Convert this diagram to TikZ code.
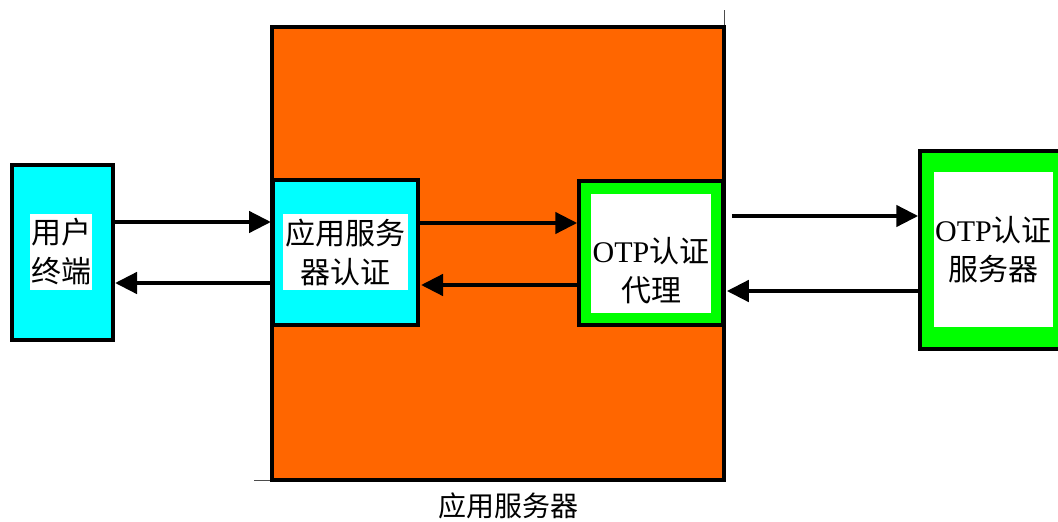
\documentclass[tikz,border=0pt]{standalone}
\usepackage{fontspec}
\setmainfont{Liberation Serif}
\newfontfamily\cjk{Noto Sans CJK SC}
\usetikzlibrary{arrows.meta}
\definecolor{orangefill}{HTML}{FF6600}
\definecolor{cyanfill}{HTML}{00FFFF}
\definecolor{greenfill}{HTML}{00FF00}
\begin{document}
\begin{tikzpicture}[x=1pt,y=-1pt,
  box/.style={draw=black, line width=4pt, rectangle, inner sep=0pt},
  whitebox/.style={fill=white, rectangle, inner sep=0pt, align=center,
    font=\fontsize{30}{39}\selectfont\cjk},
  txt/.style={inner sep=0pt, align=center, font=\fontsize{30}{39}\selectfont\cjk},
  arr/.style={line width=4.5pt, -{Triangle[length=22pt,width=21pt]}},
  thinline/.style={draw=black!70, line width=1pt}]
\useasboundingbox (0,0) rectangle (1058,522);
% application server
\node[box, fill=orangefill, minimum width=452pt, minimum height=453pt] (srv) at (498,253.5) {};
\coordinate (srvtop) at (724,10);
\coordinate (srvleft) at (254,480);
\draw[thinline] (srvtop) -- (srvtop |- srv.north);
\draw[thinline] (srvleft) -- (srv.west |- srvleft);
\node[font=\fontsize{28}{30}\selectfont\cjk] (srvlbl) at (508,506) {应用服务器};
% user terminal
\node[box, fill=cyanfill, minimum width=101pt, minimum height=175pt] (user) at (62.5,252.5) {};
\node[whitebox, minimum width=62pt, minimum height=76pt] (usert) at (61,252) {用户\\终端};
% app server auth
\node[box, fill=cyanfill, minimum width=145pt, minimum height=145pt] (auth) at (345.5,252.5) {};
\node[whitebox, minimum width=125pt, minimum height=76pt] (autht) at (345.5,252) {应用服务\\器认证};
% OTP proxy
\node[box, line width=3.5pt, fill=greenfill, minimum width=144pt, minimum height=144pt] (proxy) at (651,253) {};
\node[whitebox, minimum width=120pt, minimum height=119pt] (proxyw) at (651,253.5) {};
\node[txt] (proxyt) at (651,271) {{\rmfamily OTP}认证\\代理};
% OTP server
\node[box, line width=3.5pt, fill=greenfill, minimum width=144pt, minimum height=198pt] (otps) at (992,250) {};
\node[whitebox, minimum width=119pt, minimum height=155pt] (otpst) at (993.5,249.5) {{\rmfamily OTP}认证\\服务器};
% arrows
\draw[arr] (user.east |- 0,222) -- (auth.west |- 0,222);
\draw[arr] (auth.west |- 0,283) -- (user.east |- 0,283);
\draw[arr] (auth.east |- 0,223) -- (proxy.west |- 0,223);
\draw[arr] (proxy.west |- 0,285) -- ([xshift=1pt]auth.east |- 0,285);
\draw[arr] ([xshift=7pt]proxy.east |- 0,216) -- (otps.west |- 0,216);
\draw[arr] (otps.west |- 0,291) -- ([xshift=2pt]proxy.east |- 0,291);
\end{tikzpicture}
\end{document}
